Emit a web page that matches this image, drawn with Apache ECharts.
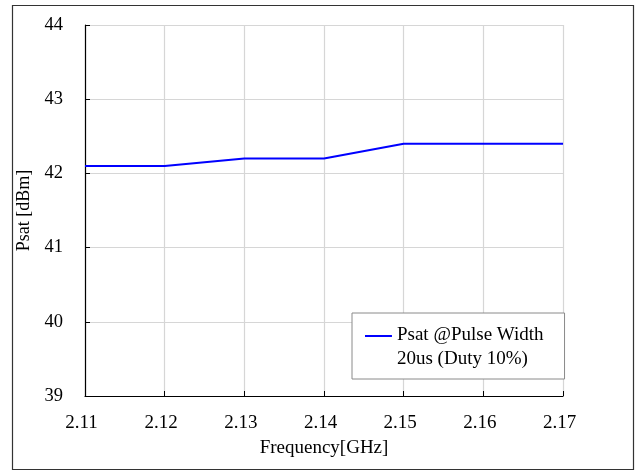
<!DOCTYPE html>
<html>
<head>
<meta charset="utf-8">
<script src="https://cdn.jsdelivr.net/npm/echarts@6/dist/echarts.min.js"></script>
<style>
  html, body { margin: 0; padding: 0; background: #fff; }
  #chart { width: 635px; height: 473px; }
</style>
</head>
<body>
<div id="chart"></div>
<script>
// Saturated output power versus frequency
const frequencies = ['2.11', '2.12', '2.13', '2.14', '2.15', '2.16', '2.17'];
const psatValues = [42.1, 42.1, 42.2, 42.2, 42.4, 42.4, 42.4];
const seriesName = 'Psat @Pulse Width\n20us (Duty 10%)';
const yTicks = { min: 39, max: 44, step: 1 };

const serif = "'Liberation Serif', 'Times New Roman', serif";
const chart = echarts.init(document.getElementById('chart'), null, { renderer: 'canvas' });

chart.setOption({
  backgroundColor: '#fff',
  animation: false,
  grid: { left: 85, right: 72, top: 25, height: 371 },
  graphic: [{
    type: 'rect',
    shape: { x: 12.5, y: 5.5, width: 621, height: 464 },
    style: { fill: 'none', stroke: '#333', lineWidth: 1.2 },
    silent: true
  }],
  legend: {
    left: 352,
    top: 313,
    orient: 'vertical',
    backgroundColor: '#fff',
    borderColor: '#8a8a8a',
    borderWidth: 1,
    borderRadius: 0,
    padding: [10, 21, 8, 13],
    itemWidth: 27,
    itemHeight: 24,
    icon: 'path://M0,0H27V2H0Z M0,24H0.05V24.05H0Z',
    textStyle: { fontFamily: serif, fontSize: 19, color: '#000', lineHeight: 24 },
    data: [{ name: seriesName }]
  },
  xAxis: {
    type: 'category',
    data: frequencies,
    boundaryGap: false,
    name: 'Frequency[GHz]',
    nameLocation: 'middle',
    nameGap: 43,
    nameTextStyle: { fontFamily: serif, fontSize: 19, color: '#000' },
    axisLine: { show: true, lineStyle: { color: '#000', width: 1.2 } },
    axisTick: { show: true, inside: true, length: 5, alignWithLabel: true, lineStyle: { color: '#000' } },
    axisLabel: { fontFamily: serif, fontSize: 19, color: '#000', margin: 18, padding: [0, 7, 0, 0] },
    splitLine: { show: true, lineStyle: { color: '#d6d6d6', width: 1.2 } }
  },
  yAxis: {
    type: 'value',
    min: yTicks.min,
    max: yTicks.max,
    interval: yTicks.step,
    name: 'Psat [dBm]',
    nameLocation: 'middle',
    nameGap: 51,
    nameTextStyle: { fontFamily: serif, fontSize: 18, color: '#000' },
    axisLine: { show: true, lineStyle: { color: '#000', width: 1.2 } },
    axisTick: { show: true, inside: true, length: 5, lineStyle: { color: '#000' } },
    axisLabel: { fontFamily: serif, fontSize: 18.5, color: '#000', margin: 22 },
    splitLine: { show: true, lineStyle: { color: '#d6d6d6', width: 1.2 } }
  },
  series: [{
    name: seriesName,
    type: 'line',
    data: psatValues,
    symbol: 'none',
    lineStyle: { color: '#0000ff', width: 2 },
    itemStyle: { color: '#0000ff' }
  }]
});
</script>
</body>
</html>
